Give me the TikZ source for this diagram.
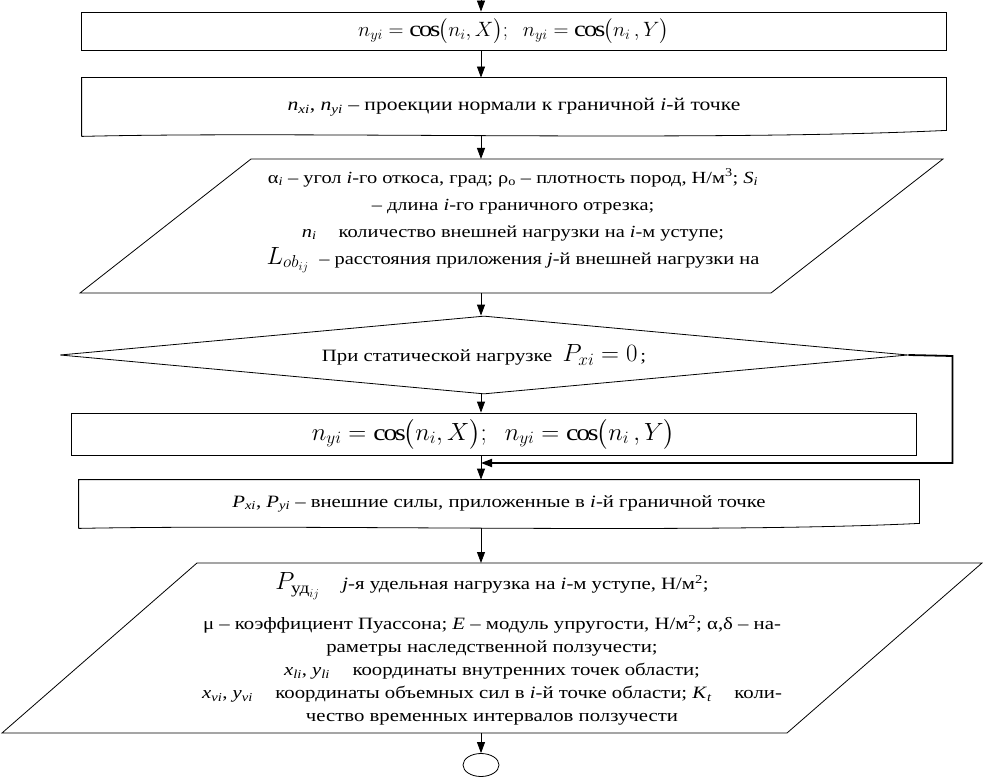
\documentclass[tikz,border=0pt]{standalone}
\usepackage{fontspec}
\setmainfont{Liberation Serif}[FakeStretch=1.2]
\usepackage{amsmath}
\usetikzlibrary{shapes.geometric,arrows.meta}

\tikzset{
  box/.style={draw, rectangle, inner sep=0pt},
  txt/.style={inner sep=0pt, align=center, font=\fontsize{17.3}{23}\selectfont},
  arr/.style={-{Triangle[length=11pt,width=8pt]}},
  big/.style={font=\fontsize{23}{23}\selectfont},
}

\begin{document}
\begin{tikzpicture}[x=1pt,y=-1pt,line width=0.8pt]
\useasboundingbox (0,0) rectangle (983,778);
\coordinate (top) at (481,0);

% first formula box
\node[box, font=\fontsize{22}{22}\selectfont, minimum width=865pt, minimum height=38pt] (box1) at (513.5,31) {$n_{yi}=\cos\bigl(n_i, X\bigr);\;\; n_{yi}=\cos\bigl(n_i\,, Y\bigr)$};
\draw[arr] (top) -- (box1.north -| top);

% projections
\node[txt, font=\fontsize{18}{23}\selectfont, minimum width=864pt, minimum height=58pt] (box2) at (514,107) {\textit{n}\textsubscript{\textit{xi}}, \textit{n}\textsubscript{\textit{yi}} -- проекции нормали к граничной \textit{i}-й точке};
\draw (box2.south west) -- (box2.north west) -- (box2.north east) -- ([yshift=6pt]box2.south east) .. controls (700,142) and (300,131) .. (box2.south west);
\draw[arr] (box1.south -| top) -- (box2.north -| top);

% input data 1
\coordinate (p1n) at (481,159); \coordinate (p1s) at (481,293);
\draw (251,159) -- (943,159) -- (771,293) -- (80,293) -- cycle;
\node[txt, font=\fontsize{17}{27}\selectfont] (p1) at (513,221) {α\textsubscript{\textit{i}} -- угол \textit{i}-го откоса, град; ρ\textsubscript{o} -- плотность пород, Н/м\textsuperscript{3}; \textit{S}\textsubscript{\textit{i}}\\
-- длина \textit{i}-го граничного отрезка;\\
\textit{n}\textsubscript{\textit{i}}\quad\ количество внешней нагрузки на \textit{i}-м уступе;\\
{\fontsize{23}{23}\selectfont$L_{ob_{ij}}$}\ \ -- расстояния приложения \textit{j}-й внешней нагрузки на};
\draw[arr] ([yshift=1pt]box2.south -| top) -- (p1n);

% condition
\node[draw, diamond, aspect=10.9, inner sep=0pt, minimum width=848pt, minimum height=78pt, txt] (dia) at (484,355) {При статической нагрузке \ {\fontsize{23}{23}\selectfont$P_{xi}=0$}\,;};
\draw[arr] (p1s) -- (dia.north -| top);

% second formula box
\node[box, big, minimum width=845pt, minimum height=42pt] (box3) at (493.5,434) {$n_{yi}=\cos\bigl(n_i, X\bigr);\;\; n_{yi}=\cos\bigl(n_i\,, Y\bigr)$};
\draw[arr] (dia.south -| top) -- (box3.north -| top);

% forces
\node[txt, minimum width=840pt, minimum height=48pt] (box4) at (499,504) {\textit{P}\textsubscript{\textit{xi}}, \textit{P}\textsubscript{\textit{yi}} -- внешние силы, приложенные в \textit{i}-й граничной точке};
\draw (box4.south west) -- (box4.north west) -- (box4.north east) -- ([yshift=5pt]box4.south east) .. controls (700,534) and (300,524) .. (box4.south west);
\coordinate (join) at (481,463);
\draw[arr] (box3.south -| top) -- (box4.north -| top);
\draw[arr, line width=1.8pt] (dia.east) -- ++(44,1) |- (join);

% input data 2
\coordinate (p2n) at (481,563); \coordinate (p2s) at (481,733);
\draw (197,563) -- (982,563) -- (787,733) -- (2,733) -- cycle;
\node[txt] (p2) at (492,649) {{\fontsize{23}{23}\selectfont$P_{\text{уд}_{ij}}$}\quad\ \textit{j}-я удельная нагрузка на \textit{i}-м уступе, Н/м\textsuperscript{2};\\[15pt]
μ -- коэффициент Пуассона; \textit{E} -- модуль упругости, Н/м\textsuperscript{2}; α,δ -- на-\\
раметры наследственной ползучести;\\
\textit{x}\textsubscript{\textit{li}}, \textit{y}\textsubscript{\textit{li}}\quad\ координаты внутренних точек области;\\
\textit{x}\textsubscript{\textit{vi}}, \textit{y}\textsubscript{\textit{vi}}\quad\ координаты объемных сил в \textit{i}-й точке области; \textit{K}\textsubscript{\textit{t}}\quad\ коли-\\
чество временных интервалов ползучести};
\draw[arr] (box4.south -| top) -- (p2n);

% end
\node[draw, ellipse, inner sep=0pt, minimum width=36pt, minimum height=23pt] (stop) at (481,765) {};
\draw[arr] (p2s) -- (stop.north);
\end{tikzpicture}
\end{document}
